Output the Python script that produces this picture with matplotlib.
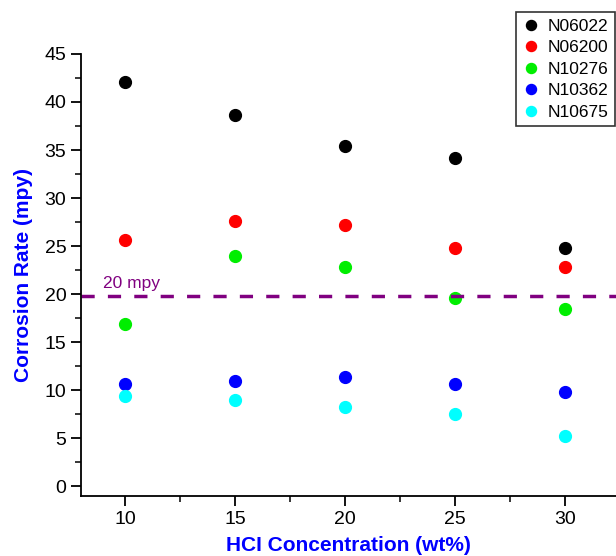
import matplotlib.pyplot as plt
from matplotlib.ticker import MultipleLocator

plt.rcParams['font.family'] = ['Liberation Sans', 'DejaVu Sans']

# HCl concentration (wt%)
conc = [10, 15, 20, 25, 30]

# corrosion rates (mpy) per alloy
n06022 = [42.1, 38.6, 35.4, 34.2, 24.8]
n06200 = [25.6, 27.6, 27.2, 24.8, 22.8]
n10276 = [16.9, 24.0, 22.8, 19.6, 18.5]
n10362 = [10.6, 11.0, 11.4, 10.6, 9.8]
n10675 = [9.4, 9.0, 8.3, 7.5, 5.2]

series = [
    ('N06022', n06022, '#000000'),
    ('N06200', n06200, '#ff0000'),
    ('N10276', n10276, '#00ee00'),
    ('N10362', n10362, '#0000ff'),
    ('N10675', n10675, '#00ffff'),
]

limit = 19.8

fig = plt.figure(figsize=(6.16, 5.56), dpi=100)
ax = fig.add_axes([0.1315, 0.108, 0.8685, 0.795])

for name, vals, col in series:
    ax.plot(conc, vals, 'o', color=col, ms=8.5, label=name, linestyle='none')

ax.axhline(limit, color='#800080', lw=2.5, linestyle=(0, (3.8, 3.8)))
ax.text(9.0, limit + 0.5, '20 mpy', color='#800080', fontsize=12.5, va='bottom')

ax.set_xlim(8, 32.32)
ax.set_ylim(-1, 45)
ax.xaxis.set_major_locator(MultipleLocator(5))
ax.xaxis.set_minor_locator(MultipleLocator(2.5))
ax.yaxis.set_major_locator(MultipleLocator(5))
ax.yaxis.set_minor_locator(MultipleLocator(2.5))

for side in ['top', 'right']:
    ax.spines[side].set_visible(False)
ax.spines['left'].set_bounds(-1, 45)
for side in ['left', 'bottom']:
    ax.spines[side].set_linewidth(1.3)

ax.tick_params(which='major', direction='out', length=7, width=1.3, labelsize=14)
ax.tick_params(which='minor', direction='out', length=4, width=1.1)

ax.set_xlabel('HCI Concentration (wt%)', color='#0000ff', fontsize=15,
              fontweight='bold', labelpad=6)
ax.set_ylabel('Corrosion Rate (mpy)', color='#0000ff', fontsize=15,
              fontweight='bold', labelpad=8)

leg = fig.legend(loc='upper right', bbox_to_anchor=(0.999, 0.978), fontsize=12.5,
                 frameon=True, fancybox=False, edgecolor='black', handlelength=1.0,
                 handletextpad=0.45, borderpad=0.38, labelspacing=0.36, markerscale=0.85,
                 borderaxespad=0.0)
leg.get_frame().set_linewidth(1.2)

fig.savefig('out.png', dpi=100)
